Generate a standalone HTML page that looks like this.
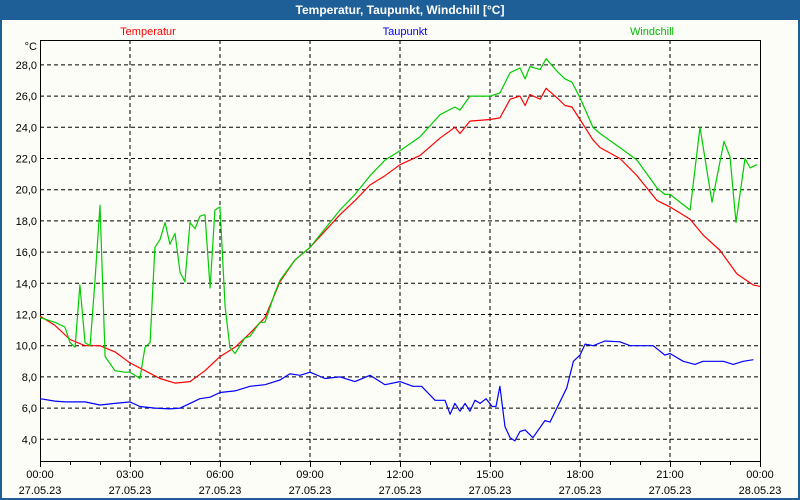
<!DOCTYPE html>
<html><head><meta charset="utf-8"><style>
html,body{margin:0;padding:0;width:800px;height:500px;overflow:hidden;background:#fdfdf8;}
svg{display:block;font-family:"Liberation Sans",sans-serif;}
</style></head><body>
<svg id="chart" width="800" height="500" viewBox="0 0 800 500">
<rect x="0" y="0" width="800" height="500" fill="#1f5f98"/>
<rect x="2" y="20" width="796" height="478" fill="#fdfdf8"/>
<text x="400" y="14" text-anchor="middle" font-size="12" font-weight="bold" fill="#ffffff">Temperatur, Taupunkt, Windchill [°C]</text>
<text x="148" y="35" text-anchor="middle" font-size="11" fill="#ff0000">Temperatur</text>
<text x="405" y="35" text-anchor="middle" font-size="11" fill="#0000ff">Taupunkt</text>
<text x="652" y="35" text-anchor="middle" font-size="11" fill="#00bb00">Windchill</text>
<text x="37" y="50" text-anchor="end" font-size="11" fill="#000">°C</text>
<g id="grid"></g>
<g id="axes"></g>
<g id="series"></g>
</svg>
<script>
const yTicks = [4,6,8,10,12,14,16,18,20,22,24,26,28];
const xTickHours = [0,3,6,9,12,15,18,21,24];
const xTickTimes = ["00:00","03:00","06:00","09:00","12:00","15:00","18:00","21:00","00:00"];
const xTickDates = ["27.05.23","27.05.23","27.05.23","27.05.23","27.05.23","27.05.23","27.05.23","27.05.23","28.05.23"];

const tempHours = [0,0.5,1,1.5,2,2.5,3,3.5,4,4.5,5,5.5,6,6.5,7,7.5,8,8.5,9,10,10.5,11,11.5,12,12.67,13.33,13.83,14,14.33,15,15.33,15.67,16,16.17,16.33,16.67,16.87,17.23,17.5,17.73,18,18.43,18.67,19.33,19.9,20.57,21,21.67,22.1,22.67,23.23,23.77,24];
const tempValues = [11.9,11.3,10.4,10.0,10.0,9.6,8.9,8.4,7.9,7.6,7.7,8.4,9.3,9.9,10.8,11.8,14.1,15.5,16.3,18.4,19.3,20.3,20.9,21.6,22.2,23.3,24.0,23.6,24.4,24.5,24.6,25.8,26.0,25.4,26.1,25.8,26.5,25.9,25.4,25.3,24.5,23.2,22.7,22.0,20.9,19.3,18.9,18.1,17.1,16.1,14.6,13.9,13.8];

const chillHours = [0,0.5,0.83,1,1.17,1.33,1.5,1.67,1.83,2,2.17,2.5,2.83,3,3.33,3.5,3.67,3.83,4,4.17,4.33,4.5,4.67,4.83,5,5.17,5.33,5.5,5.67,5.83,6,6.17,6.33,6.5,6.83,7,7.33,7.5,7.83,8,8.5,9,10,10.5,11,11.5,12,12.67,13.33,13.83,14,14.33,15,15.33,15.67,16,16.17,16.33,16.67,16.87,17.23,17.5,17.73,18,18.43,18.67,19.33,19.9,20.57,20.83,21,21.67,22,22.4,22.8,23,23.2,23.5,23.67,23.9];
const chillValues = [11.8,11.5,11.2,10.2,9.9,13.9,10.2,10.0,14.1,19.0,9.3,8.4,8.3,8.3,7.9,9.9,10.2,16.3,16.8,17.9,16.5,17.2,14.7,14.1,17.9,17.5,18.3,18.4,13.7,18.7,18.9,12.5,9.9,9.5,10.5,10.6,11.5,11.5,13.4,14.2,15.5,16.3,18.7,19.7,20.9,21.9,22.5,23.4,24.8,25.3,25.1,26.0,26.0,26.2,27.5,27.8,27.1,27.9,27.7,28.4,27.6,27.1,26.9,25.9,24.0,23.6,22.7,21.9,20.1,19.7,19.7,18.7,24.0,19.2,23.1,22.1,17.9,22.0,21.4,21.6];

const dewHours = [0,0.5,0.83,1.5,2,2.5,3,3.33,3.83,4.33,4.67,5,5.33,5.67,6,6.5,7,7.5,8,8.33,8.67,9,9.5,10,10.5,11,11.5,12,12.43,12.72,13.17,13.5,13.67,13.83,14,14.17,14.33,14.5,14.67,14.87,15.07,15.2,15.33,15.5,15.67,15.83,16,16.17,16.43,16.83,17,17.56,17.78,18,18.17,18.44,18.83,19.33,19.67,20.44,20.83,21,21.44,21.83,22.1,22.78,23.11,23.44,23.78];
const dewValues = [6.6,6.45,6.4,6.4,6.2,6.3,6.4,6.1,6.0,5.95,6.0,6.3,6.6,6.7,7.0,7.1,7.4,7.5,7.8,8.2,8.1,8.3,7.9,8.0,7.7,8.1,7.5,7.7,7.4,7.4,6.5,6.5,5.6,6.3,5.8,6.3,5.8,6.5,6.3,6.6,6.1,6.1,7.4,4.8,4.1,3.9,4.5,4.6,4.1,5.2,5.1,7.3,9.0,9.4,10.1,10.0,10.3,10.25,10.0,10.0,9.4,9.5,9.0,8.8,9.0,9.0,8.8,9.0,9.1];

const X0=40, X1=760, Y0=40, Y1=461;
function xs(h){ return X0 + h*(X1-X0)/24; }
function ys(v){ return 439.3 - (v-4)*15.6; }
const NS="http://www.w3.org/2000/svg";
function mk(tag, attrs, parent){ const e=document.createElementNS(NS,tag); for(const k in attrs) e.setAttribute(k,attrs[k]); parent.appendChild(e); return e; }

const grid=document.getElementById('grid'), axes=document.getElementById('axes'), series=document.getElementById('series');
yTicks.forEach(v=>{
  const l=mk('line',{x1:X0,x2:X1,y1:ys(v),y2:ys(v),stroke:'#000','stroke-width':1,'stroke-dasharray':'4,3'},grid);
  
  
  const t=mk('text',{x:37,y:ys(v)+4,'text-anchor':'end','font-size':11,fill:'#000'},axes);
  t.textContent=v.toFixed(1).replace('.',',');
  
  
});
xTickHours.forEach((h,i)=>{
  if(h>0 && h<24){
    const l=mk('line',{x1:xs(h),x2:xs(h),y1:Y0,y2:Y1,stroke:'#000','stroke-width':1,'stroke-dasharray':'4,3'},grid);
    
    
  }
  const t1=mk('text',{x:xs(h),y:478,'text-anchor':'middle','font-size':11,fill:'#000'},axes);
  t1.textContent=xTickTimes[i];
  
  
  const t2=mk('text',{x:xs(h),y:494,'text-anchor':'middle','font-size':11,fill:'#000'},axes);
  t2.textContent=xTickDates[i];
  
  
});
for(let h=0;h<=24;h++){
  const m=mk('line',{x1:xs(h)+0.5,x2:xs(h)+0.5,y1:Y1,y2:Y1+(h%3===0?6:4),stroke:'#000','stroke-width':1},axes);
  
  
}
const frame=mk('rect',{x:X0+0.5,y:Y0+0.5,width:X1-X0,height:Y1-Y0,fill:'none',stroke:'#000','stroke-width':1},axes);



function line(hours, vals, color, name){
  const pts=hours.map((h,i)=>xs(h).toFixed(1)+','+ys(vals[i]).toFixed(1)).join(' ');
  const p=mk('polyline',{points:pts,fill:'none',stroke:color,'stroke-width':1.2,'stroke-linejoin':'round'},series);
  
  
}
line(dewHours,dewValues,'#0000ff','taupunkt-line');
line(tempHours,tempValues,'#ff0000','temperatur-line');
line(chillHours,chillValues,'#00cc00','windchill-line');
</script>
</body></html>
